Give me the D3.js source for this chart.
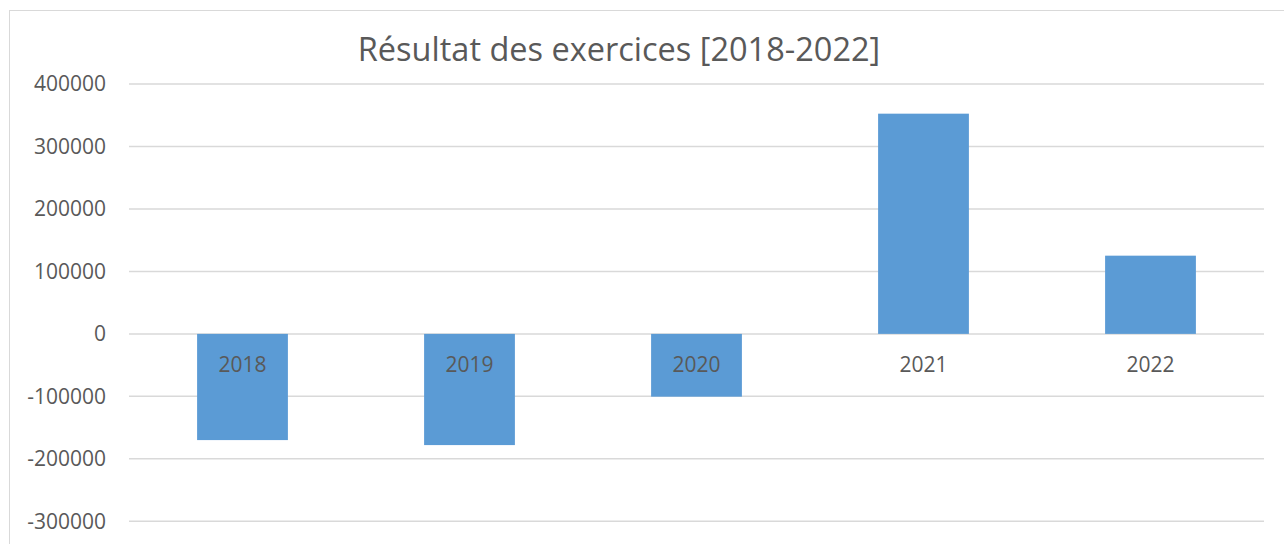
<!DOCTYPE html>
<html>
<head>
    <meta charset="utf-8" />
    <title>Résultat des exercices</title>
    <script src="https://cdn.jsdelivr.net/npm/d3@7"></script>
    <style>
        body { margin: 0; background: #fff; }
        text { font-family: "Open Sans", "Noto Sans", sans-serif; fill: #595959; }
    </style>
</head>
<body>
<script>
    // données
    var years = ['2018', '2019', '2020', '2021', '2022'];
    var resultats = [-170000, -178000, -100500, 352500, 125200];
    var yTicks = [-300000, -200000, -100000, 0, 100000, 200000, 300000, 400000];
    var titre = 'Résultat des exercices [2018-2022]';

    var width = 1284;
    var height = 544;
    var svg = d3.select('body').append('svg').attr('width', width).attr('height', height);

    // cadre du graphique
    svg.append('rect')
        .attr('x', 9.5).attr('y', 10.5)
        .attr('width', 1290).attr('height', 560)
        .attr('fill', 'none').attr('stroke', '#d9d9d9').attr('stroke-width', 1);

    var x = d3.scaleBand().domain(years).range([129, 1264]).paddingInner(0.6).paddingOuter(0.3);
    var y = d3.scaleLinear().domain([-300000, 400000]).range([521.3, 84]);

    // lignes de quadrillage
    svg.append('g').selectAll('line').data(yTicks).enter().append('line')
        .attr('x1', 129).attr('x2', 1264)
        .attr('y1', function(d){ return y(d); })
        .attr('y2', function(d){ return y(d); })
        .attr('stroke', '#d9d9d9').attr('stroke-width', 1.5);

    // axe vertical (tiret simple comme dans Excel)
    var yAxis = d3.axisLeft(y).tickValues(yTicks).tickSize(0).tickPadding(0)
        .tickFormat(function(d){ return String(d); });
    var gy = svg.append('g').attr('transform', 'translate(106,0)').call(yAxis);
    gy.select('.domain').remove();
    gy.selectAll('text').attr('font-size', '21px').attr('fill', '#595959')
        .style('font-family', '"Open Sans", sans-serif');

    // barres
    svg.append('g').selectAll('rect').data(resultats).enter().append('rect')
        .attr('x', function(d, i){ return x(years[i]); })
        .attr('width', x.bandwidth())
        .attr('y', function(d){ return d >= 0 ? y(d) : y(0); })
        .attr('height', function(d){ return Math.abs(y(d) - y(0)); })
        .attr('fill', '#5b9bd5');

    // étiquettes des années sous la ligne zéro
    svg.append('g').selectAll('text').data(years).enter().append('text')
        .text(function(d){ return d; })
        .attr('x', function(d){ return x(d) + x.bandwidth() / 2; })
        .attr('y', y(0) + 38)
        .attr('text-anchor', 'middle')
        .attr('font-size', '21px');

    // titre
    svg.append('text')
        .text(titre)
        .attr('x', 619)
        .attr('y', 61)
        .attr('text-anchor', 'middle')
        .attr('font-size', '32.5px');
</script>
</body>
</html>
